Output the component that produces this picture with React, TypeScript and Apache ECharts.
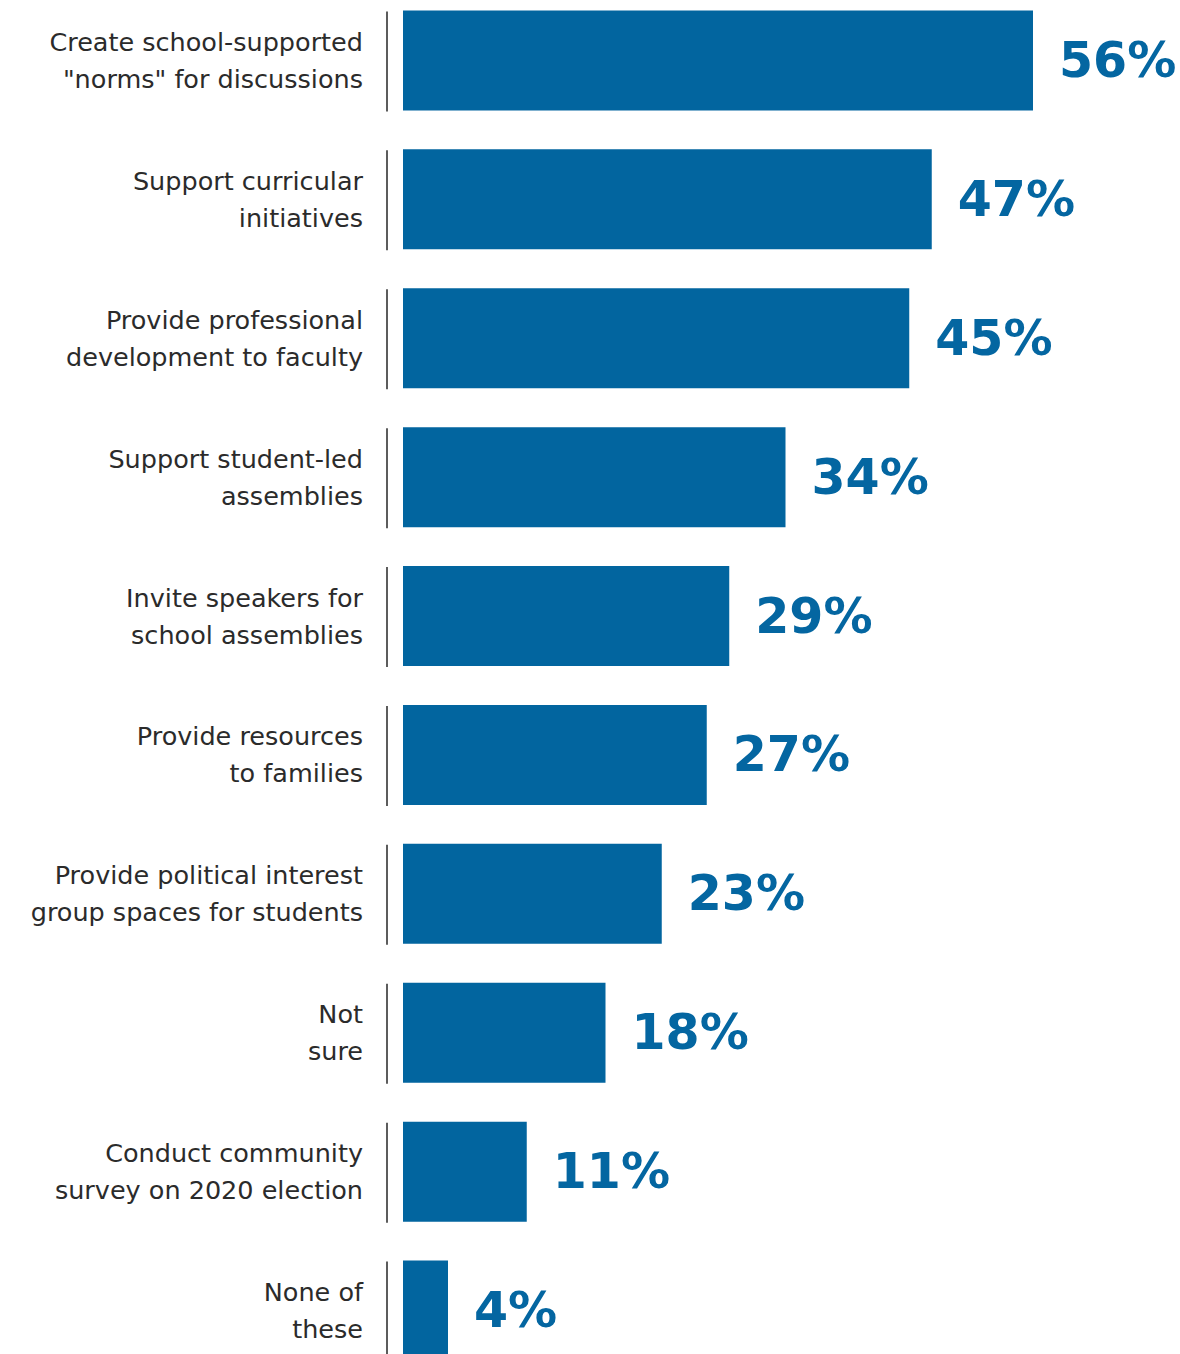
import React, { useEffect, useRef } from "react";
import * as echarts from "echarts";

const categories: string[] = [
  'Create school-supported\n"norms" for discussions',
  "Support curricular\ninitiatives",
  "Provide professional\ndevelopment to faculty",
  "Support student-led\nassemblies",
  "Invite speakers for\nschool assemblies",
  "Provide resources\nto families",
  "Provide political interest\ngroup spaces for students",
  "Not\nsure",
  "Conduct community\nsurvey on 2020 election",
  "None of\nthese",
];

const values: number[] = [56, 47, 45, 34, 29, 27, 23, 18, 11, 4];

const BAR_COLOR = "#02659f";
const LABEL_COLOR = "#0466a1";
const TEXT_COLOR = "#2b2b2b";
const SEP_COLOR = "#5c5c5c";

export default function App() {
  const ref = useRef<HTMLDivElement>(null);

  useEffect(() => {
    if (!ref.current) return;
    const chart = echarts.init(ref.current, undefined, { renderer: "svg" });
    const option: any = {
      animation: false,
      backgroundColor: "#ffffff",
      grid: { left: 403, width: 675, top: 0, bottom: 0, containLabel: false },
      xAxis: {
        type: "value",
        min: 0,
        max: 60,
        show: false,
      },
      yAxis: {
        type: "category",
        inverse: true,
        data: categories,
        axisLine: { show: false },
        axisTick: { show: false },
        splitLine: { show: false },
        axisLabel: {
          margin: 40,
          fontFamily: "DejaVu Sans",
          fontSize: 25.5,
          lineHeight: 37,
          color: TEXT_COLOR,
          align: "right",
        },
      },
      series: [
        {
          type: "bar",
          data: values,
          barCategoryGap: "28%",
          itemStyle: { color: BAR_COLOR },
          label: {
            show: true,
            position: "right",
            distance: 26,
            formatter: "{c}%",
            fontFamily: "DejaVu Sans",
            fontWeight: "bold",
            fontSize: 49,
            color: LABEL_COLOR,
          },
        },
        {
          type: "custom",
          clip: false,
          silent: true,
          data: values.map((_, i) => [0, i]),
          encode: { x: 0, y: 1 },
          renderItem: (params: any, api: any) => {
            const c = api.coord([0, api.value(1)]);
            const band = api.size([0, 1])[1];
            const half = band * 0.36;
            return {
              type: "line",
              shape: { x1: c[0] - 16, y1: c[1] - half + 1, x2: c[0] - 16, y2: c[1] + half + 1 },
              style: { stroke: SEP_COLOR, lineWidth: 2 },
            };
          },
        },
      ],
    };
    chart.setOption(option);
    return () => chart.dispose();
  }, []);

  return (
    <div
      style={{
        position: "absolute",
        left: 0,
        top: 0,
        width: 1180,
        height: 1354,
        overflow: "hidden",
        background: "#ffffff",
      }}
    >
      <div
        ref={ref}
        style={{ position: "absolute", left: 0, top: -9.4, width: 1180, height: 1389 }}
      />
    </div>
  );
}
